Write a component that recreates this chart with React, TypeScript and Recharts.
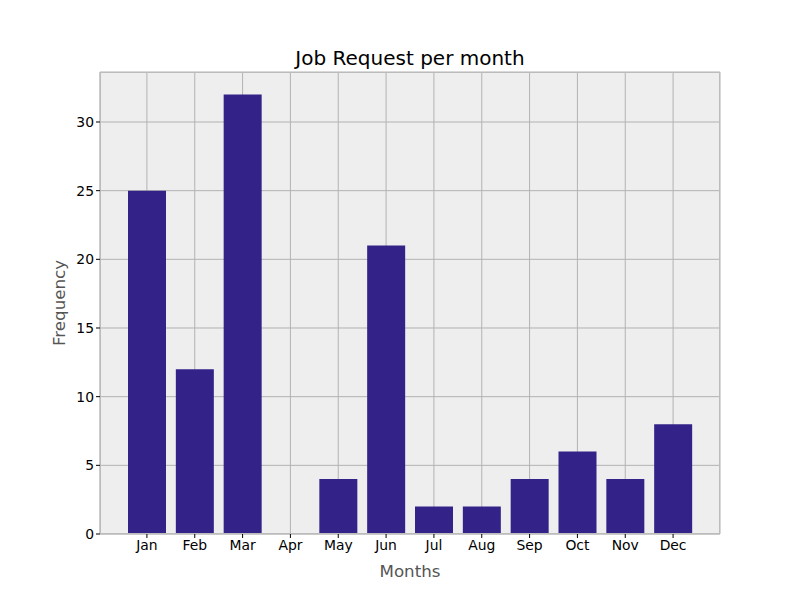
import React from 'react'
import {
  BarChart,
  Bar,
  XAxis,
  YAxis,
  CartesianGrid,
  Label,
} from 'recharts'

const months = ['Jan', 'Feb', 'Mar', 'Apr', 'May', 'Jun', 'Jul', 'Aug', 'Sep', 'Oct', 'Nov', 'Dec']
const requests = [25, 12, 32, 0, 4, 21, 2, 2, 4, 6, 4, 8]
const yTicks = [0, 5, 10, 15, 20, 25, 30]

const data = months.map((m, i) => ({ month: m, value: requests[i] }))

const font = '"DejaVu Sans", sans-serif'

export default function App() {
  return (
    <div style={{ position: 'absolute', left: 0, top: 0, width: 800, height: 600, background: '#fff', fontFamily: font }}>
      <div
        style={{
          position: 'absolute',
          left: 100,
          width: 620,
          top: 46,
          textAlign: 'center',
          fontSize: 20,
          color: '#000',
        }}
      >
        Job Request per month
      </div>
      <BarChart
        width={800}
        height={600}
        data={data}
        margin={{ top: 72, right: 80, left: 0, bottom: 0 }}
        barSize={38}
      >
        <CartesianGrid fill="#eeeeee" stroke="#b2b2b2" strokeWidth={1} />
        <XAxis
          dataKey="month"
          height={66}
          padding={{ left: 23, right: 23 }}
          axisLine={{ stroke: '#bcbcbc' }}
          tickLine={{ stroke: '#000' }}
          tickSize={4}
          tick={{ fill: '#000', fontSize: 13.9, fontFamily: font }}
        >
          <Label value="Months" position="insideBottom" offset={23} fill="#555555" fontSize={16.7} fontFamily={font} />
        </XAxis>
        <YAxis
          width={100}
          domain={[0, 33.64]}
          ticks={yTicks}
          allowDataOverflow
          axisLine={{ stroke: '#bcbcbc' }}
          tickLine={{ stroke: '#000' }}
          tickSize={4}
          tick={{ fill: '#000', fontSize: 13.9, fontFamily: font }}
        >
          <Label value="Frequency" angle={-90} position="insideLeft" offset={59} fill="#555555" fontSize={16.7} fontFamily={font} style={{ textAnchor: 'middle' }} />
        </YAxis>
        <Bar dataKey="value" fill="#332288" isAnimationActive={false} />
      </BarChart>
      <div
        style={{
          position: 'absolute',
          left: 100,
          top: 72,
          width: 620,
          height: 462,
          boxSizing: 'border-box',
          border: '1px solid #bcbcbc',
          pointerEvents: 'none',
        }}
      />
    </div>
  )
}
